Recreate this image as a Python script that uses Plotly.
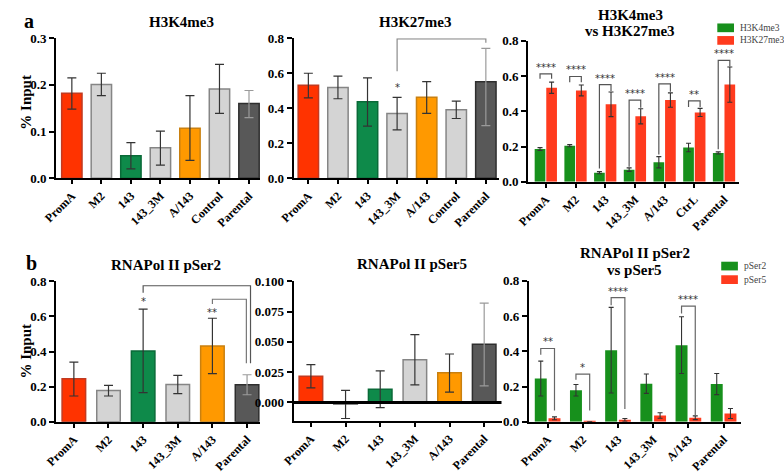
import plotly.graph_objects as go

W, H = 784, 476

# ---------------- data ----------------
cats_a = ["PromA", "M2", "143", "143_3M", "A/143", "Control", "Parental"]
cats_a3 = ["PromA", "M2", "143", "143_3M", "A/143", "CtrL", "Parental"]
cats_b = ["PromA", "M2", "143", "143_3M", "A/143", "Parental"]

k4_mean = [0.182, 0.201, 0.048, 0.065, 0.107, 0.191, 0.160]
k4_hi = [0.215, 0.225, 0.076, 0.101, 0.177, 0.244, 0.188]
k4_lo = [0.148, 0.177, 0.020, 0.028, 0.038, 0.139, 0.130]

k27_mean = [0.532, 0.518, 0.437, 0.370, 0.462, 0.391, 0.551]
k27_hi = [0.600, 0.584, 0.574, 0.462, 0.552, 0.441, 0.742]
k27_lo = [0.459, 0.454, 0.298, 0.276, 0.370, 0.341, 0.300]

cmp_k4 = [0.186, 0.205, 0.052, 0.069, 0.111, 0.195, 0.164]
cmp_k4_err = [0.008, 0.006, 0.006, 0.010, 0.032, 0.024, 0.006]
cmp_k27 = [0.534, 0.519, 0.440, 0.372, 0.464, 0.394, 0.552]
cmp_k27_err = [0.032, 0.031, 0.070, 0.043, 0.041, 0.023, 0.100]

s2_mean = [0.245, 0.178, 0.403, 0.213, 0.432, 0.211]
s2_hi = [0.340, 0.208, 0.642, 0.265, 0.590, 0.268]
s2_lo = [0.147, 0.147, 0.166, 0.160, 0.274, 0.154]

s5_mean = [0.0216, -0.0016, 0.0109, 0.0352, 0.0245, 0.0480]
s5_hi = [0.0312, 0.0099, 0.0261, 0.0560, 0.0400, 0.0821]
s5_lo = [0.0120, -0.0133, -0.0043, 0.0144, 0.0085, 0.0136]

cmp_s2 = [0.245, 0.179, 0.406, 0.216, 0.435, 0.214]
cmp_s2_err = [0.099, 0.033, 0.243, 0.055, 0.161, 0.060]
cmp_s5 = [0.020, 0.002, 0.011, 0.036, 0.023, 0.047]
cmp_s5_err = [0.008, 0.000, 0.0075, 0.0155, 0.0105, 0.0285]

# ---------------- styles ----------------
FONT = "Liberation Serif"
RED = "#FF3300"
LGREY = "#D4D4D4"
GREEN_A = "#0E8A4A"
ORANGE = "#FF9900"
DGREY = "#585858"
GREEN_B = "#17901C"
RED_B = "#FF3B1E"

fill_a = [RED, LGREY, GREEN_A, LGREY, ORANGE, LGREY, DGREY]
edge_a = ["#C23A20", "#858585", "#0A6A38", "#858585", "#C98010", "#858585", "#2E2E2E"]
fill_b = [RED, LGREY, GREEN_A, LGREY, ORANGE, DGREY]
edge_b = ["#C23A20", "#858585", "#0A6A38", "#858585", "#C98010", "#2E2E2E"]


def dom_x(x0, x1):
    return [x0 / W, x1 / W]


def dom_y(top, bottom):
    return [1 - bottom / H, 1 - top / H]


fig = go.Figure()

tickfont = dict(family=FONT, size=13, color="black", weight="bold")
xtickfont = dict(family=FONT, size=12, color="black", weight="bold")


def set_axes(n, cats, xd, yd, xr, yr, ytickvals, ytext):
    sx = "" if n == 1 else str(n)
    fig.update_layout(**{
        "xaxis" + sx: dict(domain=xd, range=xr, anchor="y" + sx, showline=True, linewidth=2,
                           linecolor="black", ticks="outside", ticklen=4, tickwidth=2,
                           tickcolor="black", tickvals=list(range(len(cats))), ticktext=cats,
                           tickangle=-45, tickfont=xtickfont, showgrid=False, zeroline=False,
                           fixedrange=True),
        "yaxis" + sx: dict(domain=yd, range=yr, anchor="x" + sx, showline=True, linewidth=2,
                           linecolor="black", ticks="outside", ticklen=5, tickwidth=2,
                           tickcolor="black", tickvals=ytickvals, ticktext=ytext,
                           tickfont=tickfont, showgrid=False, zeroline=False, fixedrange=True),
    })


def single_bars(n, means, hi, lo, fills, edges, width):
    sx = "" if n == 1 else str(n)
    for i, (m, h, l) in enumerate(zip(means, hi, lo)):
        ecol = "#9A9A9A" if fills[i] == DGREY else "#333333"
        fig.add_trace(go.Bar(
            x=[i], y=[m], width=width, xaxis="x" + sx, yaxis="y" + sx,
            marker=dict(color=fills[i], line=dict(color=edges[i], width=1.5)),
            error_y=dict(type="data", symmetric=False, array=[h - m], arrayminus=[m - l],
                         color=ecol, thickness=1.2, width=4.5),
            showlegend=False, hoverinfo="skip"))


def pair_bars(n, g, ge, r, re, width, goff, roff):
    sx = str(n)
    xs = list(range(len(g)))
    fig.add_trace(go.Bar(x=xs, y=g, width=width, offset=goff, xaxis="x" + sx, yaxis="y" + sx,
                         marker=dict(color=GREEN_B, line=dict(width=0)),
                         error_y=dict(type="data", array=ge, color="#333333", thickness=1.1, width=2.5),
                         showlegend=False, hoverinfo="skip"))
    fig.add_trace(go.Bar(x=xs, y=r, width=width, offset=roff, xaxis="x" + sx, yaxis="y" + sx,
                         marker=dict(color=RED_B, line=dict(width=0)),
                         error_y=dict(type="data", array=re, color="#333333", thickness=1.1, width=2.5),
                         showlegend=False, hoverinfo="skip"))


shapes = []
annots = []
STARFONT = dict(family="DejaVu Sans", size=10, color="#333333")


def bracket(n, x0, x1, top, lb, rb, color, label=None, yshift=-1):
    sx = "" if n == 1 else str(n)
    shapes.append(dict(type="path", xref="x" + sx, yref="y" + sx,
                       path=f"M {x0},{lb} L {x0},{top} L {x1},{top} L {x1},{rb}",
                       line=dict(color=color, width=1.2), layer="above"))
    if label:
        annots.append(dict(x=(x0 + x1) / 2, y=top, xref="x" + sx, yref="y" + sx, text=label,
                           showarrow=False, yanchor="bottom", yshift=yshift, font=STARFONT))


def star(n, x, y, label):
    sx = "" if n == 1 else str(n)
    annots.append(dict(x=x, y=y, xref="x" + sx, yref="y" + sx, text=label, showarrow=False,
                       yanchor="bottom", font=STARFONT))


def text_px(x, y, s, size, bold=True, anchor="center", color="black", angle=0):
    annots.append(dict(x=x / W, y=1 - y / H, xref="paper", yref="paper", text=s, showarrow=False,
                       xanchor=anchor, yanchor="middle", textangle=angle,
                       font=dict(family=FONT, size=size, color=color,
                                 weight="bold" if bold else "normal")))


# ---------------- panel a1 ----------------
set_axes(1, cats_a, dom_x(42, 250), dom_y(32.3, 176.7), [-0.53, 6.38], [0, 0.3],
         [0, 0.1, 0.2, 0.3], ["0.0", "0.1", "0.2", "0.3"])
single_bars(1, k4_mean, k4_hi, k4_lo, fill_a, edge_a, 0.69)

# ---------------- panel a2 ----------------
set_axes(2, cats_a, dom_x(284, 493), dom_y(32.3, 176.7), [-0.5, 6.43], [0, 0.8],
         [0, 0.2, 0.4, 0.6, 0.8], ["0.0", "0.2", "0.4", "0.6", "0.8"])
single_bars(2, k27_mean, k27_hi, k27_lo, fill_a, edge_a, 0.69)
bracket(2, 3, 6, 0.797, 0.611, 0.774, "#8A8A8A")
star(2, 3, 0.478, "*")

# ---------------- panel a3 ----------------
GW3, GO3, RO3 = 0.36, -0.375, 0.015
set_axes(3, cats_a3, dom_x(523, 738), dom_y(35, 180.5), [-0.6, 6.5], [0, 0.8],
         [0, 0.2, 0.4, 0.6, 0.8], ["0.0", "0.2", "0.4", "0.6", "0.8"])
pair_bars(3, cmp_k4, cmp_k4_err, cmp_k27, cmp_k27_err, GW3, GO3, RO3)
gc3, rc3 = GO3 + GW3 / 2, RO3 + GW3 / 2
sig3 = [("****", 0.613, 0.585, 0.585), ("****", 0.598, 0.565, 0.565),
        ("****", 0.552, 0.075, 0.515), ("****", 0.464, 0.085, 0.420),
        ("****", 0.556, 0.155, 0.512), ("**", 0.460, 0.425, 0.425),
        ("****", 0.690, 0.185, 0.655)]
for i, (lab, top, lb, rb) in enumerate(sig3):
    bracket(3, i + gc3, i + rc3, top, lb, rb, "#555555", lab)

# ---------------- panel b1 ----------------
set_axes(4, cats_b, dom_x(42, 250), dom_y(283.3, 428.3), [-0.51, 5.38], [0, 0.8],
         [0, 0.2, 0.4, 0.6, 0.8], ["0.0", "0.2", "0.4", "0.6", "0.8"])
single_bars(4, s2_mean, s2_hi, s2_lo, fill_b, edge_b, 0.68)
bracket(4, 2, 5.1, 0.775, 0.735, 0.333, "#555555")
bracket(4, 4, 4.98, 0.698, 0.671, 0.333, "#777777")
star(4, 2, 0.64, "*")
star(4, 4, 0.578, "**")

# ---------------- panel b2 ----------------
set_axes(5, cats_b, dom_x(284, 496), dom_y(283.3, 427.5), [-0.5, 5.5], [-0.0154, 0.1],
         [0, 0.025, 0.05, 0.075, 0.1], ["0.000", "0.025", "0.050", "0.075", "0.100"])
single_bars(5, s5_mean, s5_hi, s5_lo, fill_b, edge_b, 0.68)
shapes.append(dict(type="line", xref="x5 domain", yref="y5", x0=0, x1=1, y0=0, y1=0,
                   line=dict(color="black", width=3), layer="above"))

# ---------------- panel b3 ----------------
GW6, GO6, RO6 = 0.34, -0.365, 0.025
set_axes(6, cats_b, dom_x(524, 740), dom_y(282.7, 428.3), [-0.53, 5.49], [0, 0.8],
         [0, 0.2, 0.4, 0.6, 0.8], ["0.0", "0.2", "0.4", "0.6", "0.8"])
pair_bars(6, cmp_s2, cmp_s2_err, cmp_s5, cmp_s5_err, GW6, GO6, RO6)
gc6, rc6 = GO6 + GW6 / 2, RO6 + GW6 / 2
sig6 = {0: ("**", 0.416, 0.381, 0.064), 1: ("*", 0.271, 0.238, 0.064),
        2: ("****", 0.705, 0.661, 0.073), 4: ("****", 0.656, 0.614, 0.036)}
for i, (lab, top, lb, rb) in sig6.items():
    bracket(6, i + gc6, i + rc6, top, lb, rb, "#666666", lab)

# ---------------- titles & labels ----------------
text_px(170, 15, "H3K4me3", 15)
text_px(408, 15, "H3K27me3", 15)
text_px(627, 8.5, "H3K4me3", 15)
text_px(627, 25, "vs H3K27me3", 15)
text_px(154, 266.5, "RNAPol II pSer2", 15)
text_px(405, 265, "RNAPol II pSer5", 15)
text_px(632, 254, "RNAPol II pSer2", 15)
text_px(632, 272, "vs pSer5", 15)
text_px(14, 14, "a", 20)
text_px(17, 264, "b", 20)
text_px(11, 98, "% Input", 15, angle=-90)
text_px(11, 355, "% Input", 15, angle=-90)

# legends
for (x0, y0, col, lab) in [(716, 17, GREEN_B, "H3K4me3"), (716, 30, RED_B, "H3K27me3"),
                           (720, 263, GREEN_B, "pSer2"), (720, 277, RED_B, "pSer5")]:
    shapes.append(dict(type="rect", xref="paper", yref="paper", x0=x0 / W, x1=(x0 + 17) / W,
                       y0=1 - (y0 + 9) / H, y1=1 - y0 / H, fillcolor=col, line=dict(width=0)))
    text_px(x0 + 21, y0 + 4.5, lab, 9.5, bold=False, anchor="left", color="#444444")

fig.update_layout(width=W, height=H, margin=dict(l=0, r=0, t=0, b=0), autosize=False,
                  paper_bgcolor="white", plot_bgcolor="white", barmode="overlay",
                  shapes=shapes, annotations=annots, showlegend=False)

fig.write_html("out.html", config={"displayModeBar": False},
               post_script="document.body.style.margin='0';document.body.style.overflow='hidden';")
